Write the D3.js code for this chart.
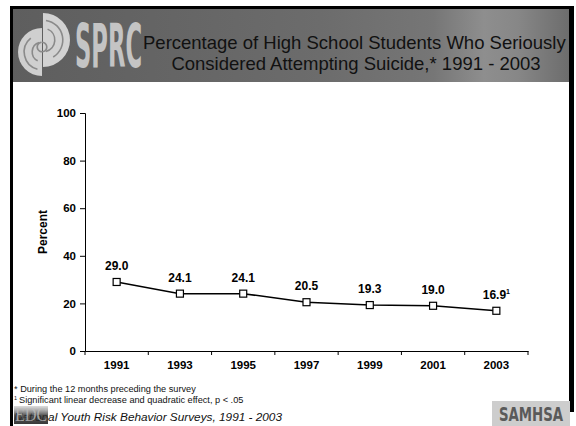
<!DOCTYPE html>
<html>
<head>
<meta charset="utf-8">
<script src="https://cdn.jsdelivr.net/npm/d3@7/dist/d3.min.js"></script>
<style>
  html, body { margin: 0; padding: 0; background: #fff; }
  svg { display: block; }
  text { font-family: "Liberation Sans", Arial, sans-serif; }
</style>
</head>
<body>
<svg id="chart" width="576" height="426"></svg>
<script>
// Survey years and the share of students (%) who seriously considered attempting suicide
const years = ["1991", "1993", "1995", "1997", "1999", "2001", "2003"];
const percents = [29.0, 24.1, 24.1, 20.5, 19.3, 19.0, 16.9];
const valueLabels = ["29.0", "24.1", "24.1", "20.5", "19.3", "19.0", "16.9"];
const valueNotes = ["", "", "", "", "", "", "1"];
const yTicks = [0, 20, 40, 60, 80, 100];

const titleLines = [
  "Percentage of High School Students Who Seriously",
  "Considered Attempting Suicide,* 1991 - 2003"
];
const footnotes = [
  "* During the 12 months  preceding the survey",
  "Significant linear decrease and quadratic effect, p < .05"
];
const sourceText = "National Youth Risk Behavior Surveys, 1991 - 2003";

const svg = d3.select("#chart");
const defs = svg.append("defs");

// ---- Slide frame ----
svg.append("rect").attr("x", 0).attr("y", 0).attr("width", 576).attr("height", 426).attr("fill", "#fff");

// Header band gradient
const hg = defs.append("linearGradient").attr("id", "hdr").attr("x1", 0).attr("x2", 1).attr("y1", 0).attr("y2", 0);
[[0, "#5e5e5e"], [0.25, "#646464"], [0.55, "#6c6c6c"], [0.75, "#767676"], [0.84, "#8e8e8e"], [0.9, "#878787"], [1, "#6a6a6a"]]
  .forEach(([o, c]) => hg.append("stop").attr("offset", o).attr("stop-color", c));

svg.append("rect").attr("x", 11).attr("y", 7).attr("width", 563).attr("height", 75).attr("fill", "url(#hdr)");
// black frame lines
svg.append("rect").attr("x", 10).attr("y", 6).attr("width", 564).attr("height", 3).attr("fill", "#000");
svg.append("rect").attr("x", 10).attr("y", 6).attr("width", 3).attr("height", 420).attr("fill", "#000");
svg.append("rect").attr("x", 569).attr("y", 6).attr("width", 5).attr("height", 406).attr("fill", "#000");

// ---- SPRC logo ----
const logo = svg.append("g");
const arc = d3.arc();
// right half disc
logo.append("path")
  .attr("transform", "translate(43,40)")
  .attr("d", arc({innerRadius: 0, outerRadius: 27, startAngle: 0, endAngle: Math.PI}))
  .attr("fill", "#d2d2d2");
// left half disc, lower
logo.append("path")
  .attr("transform", "translate(42,52)")
  .attr("d", arc({innerRadius: 0, outerRadius: 24, startAngle: Math.PI, endAngle: 2 * Math.PI}))
  .attr("fill", "#cfcfcf");
// spiral strokes
[[43, 40, 19, 0.15, 2.6], [43, 40, 11, 0.4, 2.9], [42, 52, 17, 3.4, 5.6], [42, 52, 9, 3.6, 6.0], [42, 47, 4, 0, 6.2]]
  .forEach(([cx, cy, r, a0, a1]) => {
    logo.append("path")
      .attr("transform", `translate(${cx},${cy})`)
      .attr("d", d3.arc()({innerRadius: r, outerRadius: r + 1.6, startAngle: a0, endAngle: a1}))
      .attr("fill", "#8a8a8a");
  });
logo.append("text")
  .attr("transform", "translate(75,67) scale(0.42,1)")
  .style("font-family", "'DejaVu Sans Condensed', 'DejaVu Sans', sans-serif")
  .style("font-size", "60px").style("font-weight", "bold")
  .attr("fill", "#c4c4c4")
  .text("SPRC");

// ---- Title ----
svg.append("text").attr("x", 143).attr("y", 49)
  .style("font-size", "18.5px").attr("fill", "#111").text(titleLines[0]);
svg.append("text").attr("x", 356).attr("y", 70).attr("text-anchor", "middle")
  .style("font-size", "18.5px").attr("fill", "#111").text(titleLines[1]);

// ---- Chart ----
const x = d3.scaleBand().domain(years).range([85, 528]);
const y = d3.scaleLinear().domain([0, 100]).range([351, 113]);

const yAxis = svg.append("g").attr("transform", "translate(85,0)")
  .call(d3.axisLeft(y).tickValues(yTicks).tickSize(5).tickPadding(4).tickFormat(d3.format("d")));
yAxis.select(".domain").attr("stroke", "#000").attr("stroke-width", 1);
yAxis.selectAll("text").style("font-size", "11.5px").style("font-weight", "bold")
  .style("font-family", "'Liberation Sans', Arial, sans-serif").attr("fill", "#000");

const xAxis = svg.append("g").attr("transform", "translate(0,351)")
  .call(d3.axisBottom(x).tickSize(0).tickPadding(10).tickSizeOuter(0));
xAxis.select(".domain").attr("stroke", "#000").attr("stroke-width", 1);
xAxis.selectAll("text").style("font-size", "11.5px").style("font-weight", "bold")
  .style("font-family", "'Liberation Sans', Arial, sans-serif").attr("fill", "#000");
// tick marks on category boundaries
const bounds = years.map(d => x(d)).concat([x.range()[1]]);
svg.append("g").selectAll("line").data(bounds).join("line")
  .attr("x1", d => d).attr("x2", d => d)
  .attr("y1", 351).attr("y2", 355)
  .attr("stroke", "#000").attr("stroke-width", 1);

// y-axis title
svg.append("text")
  .attr("transform", "translate(47,232) rotate(-90)")
  .attr("text-anchor", "middle")
  .style("font-size", "12px").style("font-weight", "bold")
  .text("Percent");

const pts = years.map((yr, i) => ({yr, v: percents[i], lab: valueLabels[i], note: valueNotes[i]}));
const cx = d => x(d.yr) + x.bandwidth() / 2;

svg.append("path")
  .datum(pts)
  .attr("fill", "none").attr("stroke", "#000").attr("stroke-width", 1.5)
  .attr("d", d3.line().x(cx).y(d => y(d.v)));

svg.append("g").selectAll("rect").data(pts).join("rect")
  .attr("x", d => cx(d) - 3.5).attr("y", d => y(d.v) - 3.5)
  .attr("width", 7).attr("height", 7)
  .attr("fill", "#fff").attr("stroke", "#000").attr("stroke-width", 1.2);

const vl = svg.append("g").selectAll("text").data(pts).join("text")
  .attr("x", cx).attr("y", d => y(d.v) - 12)
  .attr("text-anchor", "middle")
  .style("font-size", "12px").style("font-weight", "bold");
vl.append("tspan").text(d => d.lab);
vl.filter(d => d.note).append("tspan")
  .attr("dy", -5).style("font-size", "7px").text(d => d.note);

// ---- Footnotes ----
svg.append("text").attr("x", 14).attr("y", 392).style("font-size", "9.2px").attr("fill", "#111").text(footnotes[0]);
const fn2 = svg.append("text").attr("x", 14).attr("y", 403).style("font-size", "9.2px").attr("fill", "#111");
fn2.append("tspan").attr("dy", -3).style("font-size", "5.5px").text("1");
fn2.append("tspan").attr("dy", 3).attr("dx", 2).text(footnotes[1]);

svg.append("text").attr("x", 14).attr("y", 421)
  .style("font-size", "11.8px").style("font-style", "italic").attr("fill", "#111")
  .text(sourceText);

// EDC mark over the start of the source line
const eg = defs.append("linearGradient").attr("id", "edc").attr("x1", 0).attr("x2", 0).attr("y1", 0).attr("y2", 1);
eg.append("stop").attr("offset", 0).attr("stop-color", "#888").attr("stop-opacity", 0.3);
eg.append("stop").attr("offset", 0.5).attr("stop-color", "#333").attr("stop-opacity", 0.8);
eg.append("stop").attr("offset", 1).attr("stop-color", "#222").attr("stop-opacity", 0.9);
svg.append("rect").attr("x", 14).attr("y", 406).attr("width", 34).attr("height", 18).attr("fill", "url(#edc)");
svg.append("text")
  .attr("transform", "translate(15,421) scale(0.85,1)")
  .style("font-family", "'Liberation Serif', 'DejaVu Serif', serif")
  .style("font-size", "19px").attr("fill", "#bdbdbd").attr("fill-opacity", 0.8)
  .text("EDC");

// SAMHSA mark
svg.append("rect").attr("x", 492).attr("y", 401).attr("width", 78).attr("height", 25).attr("fill", "#cdcdcd");
svg.append("text")
  .attr("transform", "translate(531,421) scale(0.78,1)")
  .attr("text-anchor", "middle")
  .style("font-family", "'DejaVu Sans Condensed', 'DejaVu Sans', sans-serif")
  .style("font-size", "19px").style("font-weight", "bold").attr("fill", "#5a5a5a")
  .text("SAMHSA");
</script>
</body>
</html>
